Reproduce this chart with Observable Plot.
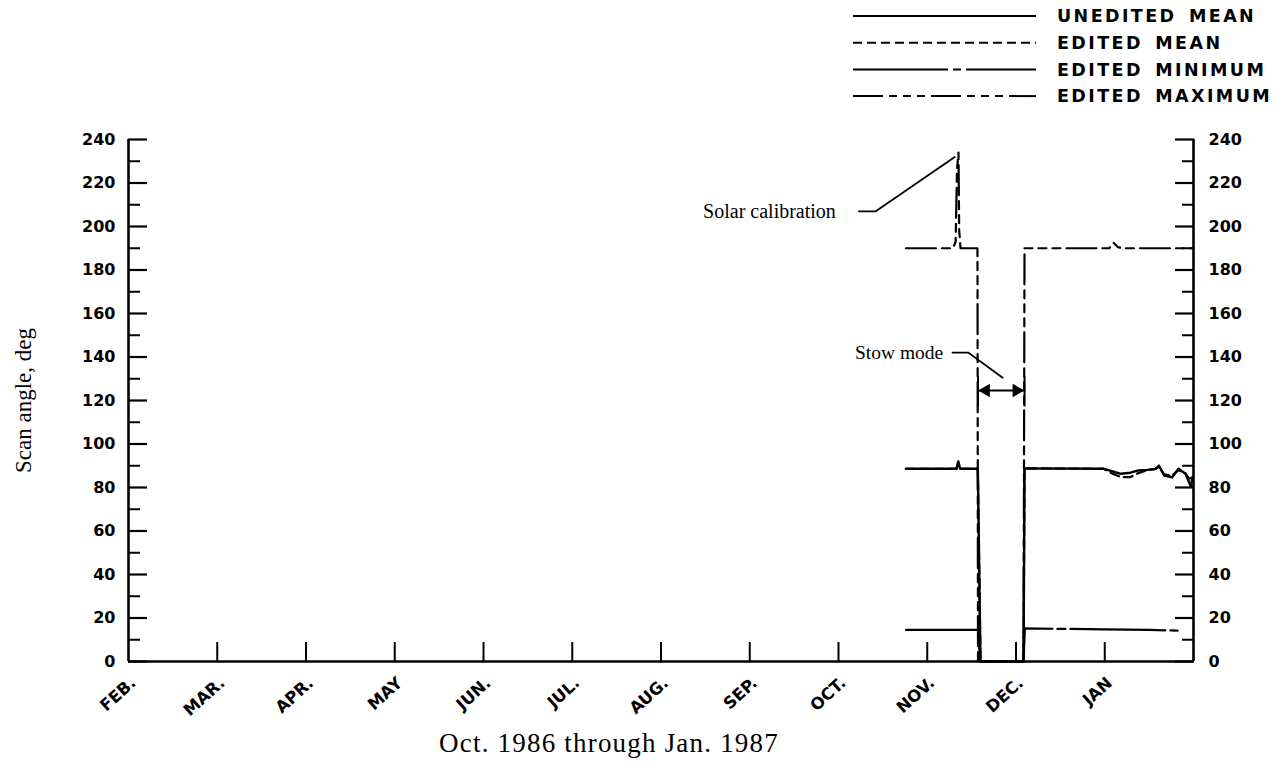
<!DOCTYPE html>
<html>
<head>
<meta charset="utf-8">
<script src="https://cdn.jsdelivr.net/npm/d3@7"></script>
<script src="https://cdn.jsdelivr.net/npm/@observablehq/plot@0.6"></script>
<style>
  body { margin: 0; background: #fff; }
  #legend { width: 1275px; height: 110px; }
  #legend svg, #chart svg { display: block; }
  .xtitle text, text.xtitle, g.xtitle { letter-spacing: 1.2px; }
</style>
</head>
<body>
<div id="legend"></div>
<div id="chart"></div>
<script>
// ---- Data (x = months after 1 Feb; 0 = FEB, 12 = next FEB) ----
const monthLabels = ["FEB.", "MAR.", "APR.", "MAY", "JUN.", "JUL.", "AUG.", "SEP.", "OCT.", "NOV.", "DEC.", "JAN"];
const monthTicks = [1, 2, 3, 4, 5, 6, 7, 8, 9, 10, 11];
const yMajor = [0, 20, 40, 60, 80, 100, 120, 140, 160, 180, 200, 220, 240];
const yMinor = [10, 30, 50, 70, 90, 110, 130, 150, 170, 190, 210, 230];

const seriesNames = ["UNEDITED MEAN", "EDITED MEAN", "EDITED MINIMUM", "EDITED MAXIMUM"];

const uneditedMean = [
  [8.76, 88.6], [9.30, 88.6], [9.33, 88.8], [9.35, 92], [9.37, 88.6], [9.57, 88.6], [9.60, 0],
  [10.085, 0], [10.096, 88.8], [10.99, 88.6], [11.08, 87.5], [11.18, 86.3], [11.29, 86.8],
  [11.37, 87.8], [11.48, 88.1], [11.57, 88.5], [11.61, 90.1], [11.67, 85.5], [11.76, 84.7],
  [11.83, 88.6], [11.91, 86.3], [11.95, 82.4], [11.97, 80.5], [11.99, 85]
];
const editedMean = [
  [8.76, 88.6], [9.57, 88.6], [9.60, 0], [10.085, 0], [10.096, 88.8], [10.99, 88.6],
  [11.08, 86.5], [11.18, 84.8], [11.29, 84.8], [11.37, 86.5], [11.48, 88.0], [11.57, 88.5],
  [11.61, 89.5], [11.67, 86], [11.76, 85.5], [11.83, 88], [11.91, 86.5], [11.95, 84], [11.99, 85]
];
const editedMinimum = [
  [8.76, 14.5], [9.575, 14.5], [9.595, 0], [10.085, 0], [10.10, 15.2], [11.0, 14.8], [11.5, 14.5], [11.82, 14.2]
];
const editedMaximum = [
  [8.76, 190], [9.29, 190], [9.32, 193], [9.335, 226], [9.352, 234], [9.36, 198], [9.375, 190],
  [9.566, 190], [9.572, 0], [10.085, 0], [10.096, 190], [11.05, 190], [11.10, 192.5],
  [11.15, 190.5], [11.20, 190], [12, 190]
];

// annotations
const solarLabel = [{x: 7.97, y: 207, text: "Solar calibration"}];
const solarLeader = [[8.23, 207], [8.42, 207], [9.31, 232]];
const stowLabel = [{x: 9.18, y: 142, text: "Stow mode"}];
const stowLeader = [[9.285, 142], [9.465, 142], [9.85, 130.5]];
const stowSpan = [[9.572, 124.6], [10.096, 124.6]];
const stowEnds = [9.572, 10.096];
const stowEndRange = [117, 131];

// ---- Styles ----
const dashes = [null, "9,5", "95,5,8,5", "30,6,8,6,8,6,8,6"];
const boldFont = "DejaVu Sans, Verdana, sans-serif";
const serifFont = "Liberation Serif, Times New Roman, serif";

// ---- Legend (above the chart) ----
{
  const svg = d3.select("#legend").append("svg").attr("width", 1275).attr("height", 110);
  const rowY = (i) => 16 + i * 26.7;
  seriesNames.forEach((name, i) => {
    const line = svg.append("line")
      .attr("x1", 853).attr("x2", 1036)
      .attr("y1", rowY(i)).attr("y2", rowY(i))
      .attr("stroke", "black").attr("stroke-width", 2);
    if (dashes[i]) line.attr("stroke-dasharray", dashes[i]);
    svg.append("text")
      .attr("x", 1057).attr("y", rowY(i)).attr("dy", "0.36em")
      .attr("font-family", boldFont).attr("font-weight", "bold")
      .attr("font-size", 17.5).attr("letter-spacing", 2.4).attr("word-spacing", 4)
      .attr("fill", "black")
      .text(name);
  });
}

// ---- Chart ----
const px = (d) => d[0], py = (d) => d[1];
const lineOpts = (dash) => ({x: px, y: py, stroke: "black", strokeWidth: 2.2, strokeDasharray: dash, curve: "linear"});

const chart = Plot.plot({
  width: 1275,
  height: 661,
  marginTop: 29,
  marginBottom: 110,
  marginLeft: 128,
  marginRight: 82,
  style: {background: "white", color: "black", overflow: "visible"},
  x: {domain: [0, 12], axis: null},
  y: {domain: [0, 240], axis: null},
  marks: [
    // frame (left, right, bottom)
    Plot.ruleX([0, 12], {stroke: "black", strokeWidth: 2.6}),
    Plot.ruleY([0], {stroke: "black", strokeWidth: 2.6}),
    // inward ticks
    Plot.axisY(yMinor, {anchor: "left", tickSize: -12, fill: "none", strokeWidth: 2, label: null}),
    Plot.axisY(yMajor, {anchor: "left", tickSize: -19, fill: "none", strokeWidth: 2.2, label: null}),
    Plot.axisY(yMinor, {anchor: "right", tickSize: -12, fill: "none", strokeWidth: 2, label: null}),
    Plot.axisY(yMajor, {anchor: "right", tickSize: -19, fill: "none", strokeWidth: 2.2, label: null}),
    Plot.axisX(monthTicks, {anchor: "bottom", tickSize: -19, fill: "none", strokeWidth: 2, label: null}),
    // tick labels
    Plot.axisY(yMajor, {anchor: "left", tickSize: 0, tickPadding: 13, label: null,
      fontFamily: boldFont, fontWeight: "bold", fontSize: 16}),
    Plot.axisY(yMajor, {anchor: "right", tickSize: 0, tickPadding: 15, label: null,
      fontFamily: boldFont, fontWeight: "bold", fontSize: 16}),
    Plot.text(monthLabels.map((_, i) => i), {
      x: (d) => d, text: (d) => monthLabels[d], frameAnchor: "bottom",
      rotate: -42, textAnchor: "end", lineAnchor: "middle", dx: 5, dy: 19,
      fontFamily: boldFont, fontWeight: "bold", fontSize: 16.5, fill: "black"
    }),
    // axis titles
    Plot.text(["Scan angle, deg"], {frameAnchor: "left", rotate: -90, dx: -105, textAnchor: "middle",
      fontFamily: serifFont, fontSize: 23, fill: "black"}),
    Plot.text(["Oct. 1986 through Jan. 1987"], {frameAnchor: "bottom", dx: -52, dy: 90, textAnchor: "middle",
      fontFamily: serifFont, fontSize: 27, fill: "black", className: "xtitle"}),
    // data
    Plot.line(editedMaximum, lineOpts(dashes[3])),
    Plot.line(editedMinimum, lineOpts(dashes[2])),
    Plot.line(editedMean, lineOpts(dashes[1])),
    Plot.line(uneditedMean, {...lineOpts(null), strokeWidth: 2.4}),
    // annotations
    Plot.line(solarLeader, {x: px, y: py, stroke: "black", strokeWidth: 1.8}),
    Plot.text(solarLabel, {x: "x", y: "y", text: "text", textAnchor: "end",
      fontFamily: serifFont, fontSize: 20, fill: "black"}),
    Plot.line(stowLeader, {x: px, y: py, stroke: "black", strokeWidth: 1.8}),
    Plot.text(stowLabel, {x: "x", y: "y", text: "text", textAnchor: "end",
      fontFamily: serifFont, fontSize: 19.5, fill: "black"}),
    Plot.line(stowSpan, {x: px, y: py, stroke: "black", strokeWidth: 2}),
    Plot.ruleX(stowEnds, {y1: stowEndRange[0], y2: stowEndRange[1], stroke: "black", strokeWidth: 2}),
    Plot.dot([stowSpan[0]], {x: px, y: py, symbol: "triangle", rotate: -90, r: 5, fill: "black", stroke: null, dx: 8}),
    Plot.dot([stowSpan[1]], {x: px, y: py, symbol: "triangle", rotate: 90, r: 5, fill: "black", stroke: null, dx: -8})
  ]
});
document.getElementById("chart").appendChild(chart);
</script>
</body>
</html>
